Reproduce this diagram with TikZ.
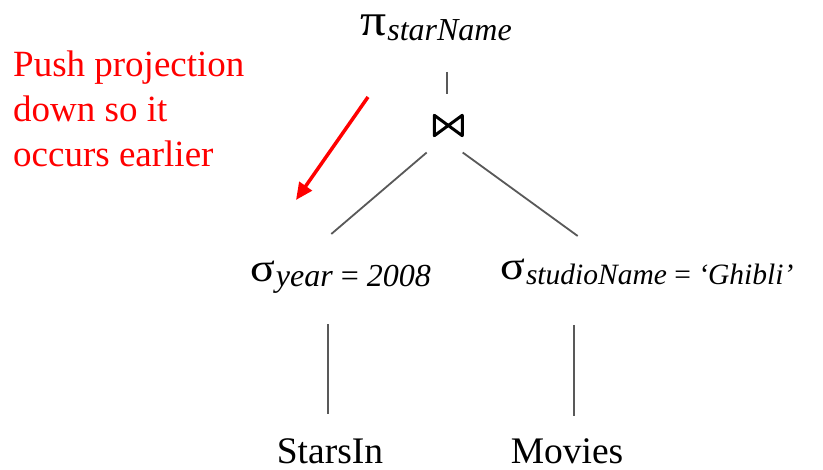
\documentclass[tikz,border=0pt]{standalone}
\usepackage{fontspec}
\setmainfont{Liberation Serif}
\usetikzlibrary{calc,arrows.meta}
\definecolor{edgegray}{HTML}{595959}
\definecolor{notered}{HTML}{FF0000}
\tikzset{
  edge/.style={draw=edgegray, line width=1.8pt},
  opnode/.style={inner sep=0pt, anchor=base west},
  relnode/.style={inner sep=0pt, anchor=base, font=\fontsize{37.5}{37.5}\selectfont},
  note/.style={inner sep=0pt, anchor=north west, align=left, text=notered,
    font=\fontsize{37}{45}\selectfont},
  hint/.style={draw=notered, line width=3.5pt, -{Triangle[length=17pt,width=15pt]}},
  bowtie/.style={draw=black, line width=3pt, line join=round},
}
% wide operator letters with a lowered italic subscript
\newcommand{\opsym}[2]{{\fontsize{#1}{#1}\selectfont\scalebox{1.15}[1]{#2}}}
\newcommand{\opsub}[3]{\raisebox{-#2}{\fontsize{#1}{#1}\selectfont\itshape #3}}
\begin{document}
\begin{tikzpicture}[x=1pt,y=-1pt]
  \useasboundingbox[fill=white] (0,0) rectangle (823,470);

  % operator tree
  \node[opnode] (proj) at (360,36) {\opsym{45}{π}\kern1pt\opsub{32}{5pt}{starName}};
  \node[inner sep=0pt, minimum width=27.5pt, minimum height=20pt] (join) at (448.3,125.5) {};
  \node[opnode] (selY) at (250,282) {\opsym{40}{σ}\kern1pt\opsub{32}{5pt}{year {\upshape=} 2008}};
  \node[opnode] (selS) at (500,280) {\opsym{40}{σ}\kern1pt\opsub{29.5}{5pt}{studioName {\upshape=} ‘Ghibli’}};
  \node[relnode] (stars) at (330,464) {StarsIn};
  \node[relnode] (movies) at (567,464) {Movies};

  % join symbol
  \draw[bowtie] (join.north west) -- (join.south west) -- (join.north east)
    -- (join.south east) -- cycle;

  % tree edges
  \draw[edge] ($(proj.base west)+(86.7,36)$) -- ($(join.north)+(-1.6,-21.5)$);
  \draw[edge] ($(join.south)+(-21.6,16.8)$) -- ($(selY.base west)+(81.3,-48)$);
  \draw[edge] ($(join.south)+(14.4,16.8)$) -- ($(selS.base west)+(77.7,-44)$);
  \draw[edge] ($(selY.base west)+(78.3,42.3)$) -- ($(stars.base)+(-1.7,-49.7)$);
  \draw[edge] ($(selS.base west)+(74,45)$) -- ($(movies.base)+(7,-48)$);

  % annotation
  \node[note] (hinttext) at (13,51) {Push projection\\down so it\\occurs earlier};
  \draw[hint] ($(hinttext.north west)+(355,46)$) -- ($(hinttext.north west)+(283,149)$);
\end{tikzpicture}
\end{document}
